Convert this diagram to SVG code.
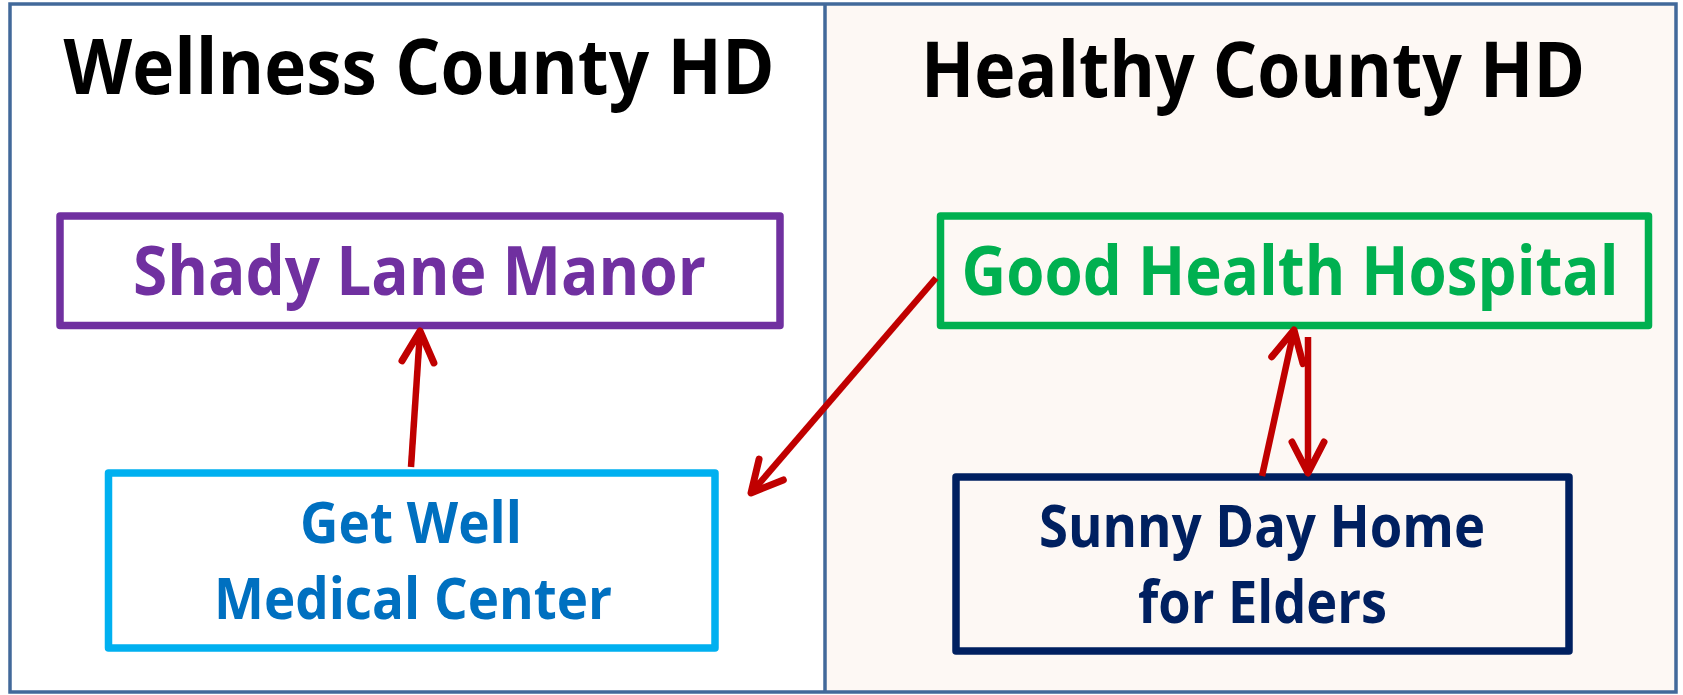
<svg xmlns="http://www.w3.org/2000/svg" width="1683" height="695" viewBox="0 0 1683 695">
<style>
.t{font-family:"Open Sans","Noto Sans","Liberation Sans",sans-serif;font-weight:700;text-anchor:middle}
.title{font-size:77px;fill:#000}
.box{fill:none;stroke-width:7.5;stroke-linejoin:round}
.con{stroke:#C00000;stroke-width:6.5;fill:none}
</style>
<defs>
<marker id="ah" markerUnits="userSpaceOnUse" viewBox="-40 -22 46 44" refX="0" refY="0" markerWidth="46" markerHeight="44" orient="auto">
<path d="M-31,-16 L0,0 L-31,16" fill="none" stroke="#C00000" stroke-width="7" stroke-linecap="round" stroke-linejoin="round"/>
<path d="M-14,-5 L0,0 L-14,5 Z" fill="#C00000"/>
</marker>
</defs>
<g id="panels">
<rect x="10" y="4" width="816" height="688" fill="#FFFFFF"/>
<rect x="826" y="4" width="850" height="688" fill="#FDF8F4"/>
<rect x="10" y="4" width="1666" height="688" fill="none" stroke="#42699A" stroke-width="3.5"/>
<line x1="825" y1="4" x2="825" y2="692" stroke="#42699A" stroke-width="3.5"/>
<text class="t title" x="419" y="94" textLength="711" lengthAdjust="spacingAndGlyphs">Wellness County HD</text>
<text class="t title" x="1253" y="97" textLength="664" lengthAdjust="spacingAndGlyphs">Healthy County HD</text>
</g>
<g id="shady-lane-manor">
<rect class="box" x="60" y="216" width="720" height="109.5" stroke="#7030A0"/>
<text class="t" x="419.5" y="295" font-size="68" fill="#7030A0" textLength="573" lengthAdjust="spacingAndGlyphs">Shady Lane Manor</text>
</g>
<g id="good-health-hospital">
<rect class="box" x="940.5" y="216" width="708" height="109.5" stroke="#00B050"/>
<text class="t" x="1290" y="295" font-size="68" fill="#00B050" textLength="657" lengthAdjust="spacingAndGlyphs">Good Health Hospital</text>
</g>
<g id="get-well-medical-center">
<rect class="box" x="108.5" y="473" width="606.5" height="175" stroke="#00B0F0"/>
<text class="t" x="411" y="542.5" font-size="58" fill="#0070C0" textLength="222" lengthAdjust="spacingAndGlyphs">Get Well</text>
<text class="t" x="413" y="619" font-size="58" fill="#0070C0" textLength="398" lengthAdjust="spacingAndGlyphs">Medical Center</text>
</g>
<g id="sunny-day-home">
<rect class="box" x="956" y="477" width="613" height="174" stroke="#002060"/>
<text class="t" x="1262" y="546.5" font-size="59" fill="#002060" textLength="446" lengthAdjust="spacingAndGlyphs">Sunny Day Home</text>
<text class="t" x="1262.5" y="623" font-size="59" fill="#002060" textLength="249" lengthAdjust="spacingAndGlyphs">for Elders</text>
</g>
<g id="connectors">
<line class="con" x1="411" y1="467" x2="420" y2="331" marker-end="url(#ah)"/>
<line class="con" x1="936" y1="278" x2="751" y2="493" marker-end="url(#ah)"/>
<line class="con" x1="1262" y1="476" x2="1294" y2="330" marker-end="url(#ah)"/>
<line class="con" x1="1308" y1="337" x2="1308" y2="473" marker-end="url(#ah)"/>
</g>
</svg>
